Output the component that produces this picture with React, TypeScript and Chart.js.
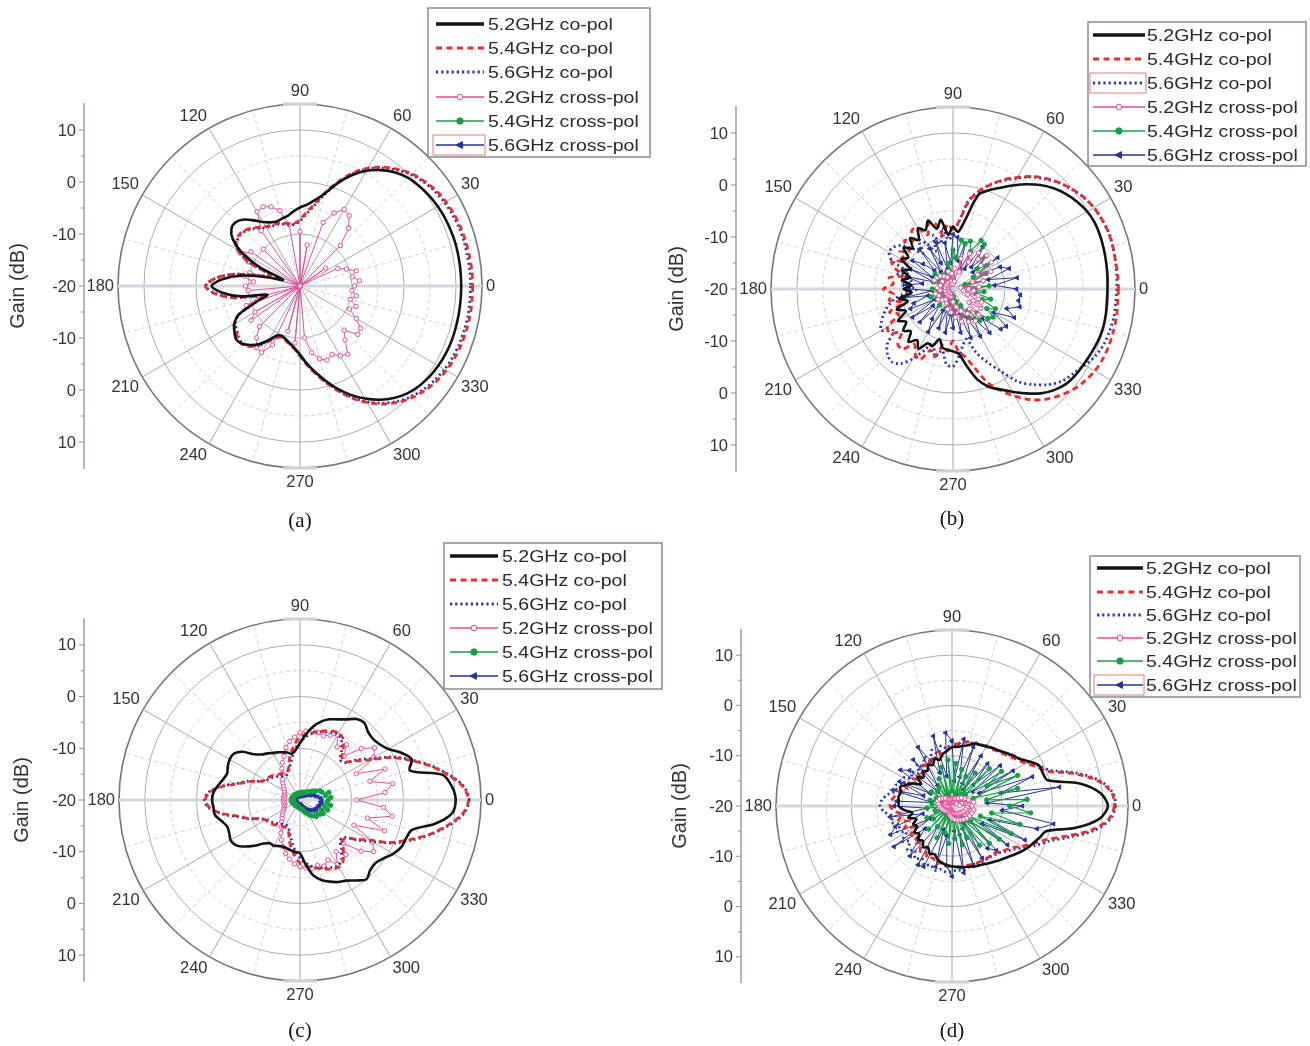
import React, { useEffect, useRef } from 'react';
import { Chart, registerables } from 'chart.js';

Chart.register(...registerables);

// ---------- categories & ticks ----------
const ANGLES = [
  0, 5, 10, 15, 20, 25, 30, 35, 40, 45, 50, 55,
  60, 65, 70, 75, 80, 85, 90, 95, 100, 105, 110, 115,
  120, 125, 130, 135, 140, 145, 150, 155, 160, 165, 170, 175,
  180, 185, 190, 195, 200, 205, 210, 215, 220, 225, 230, 235,
  240, 245, 250, 255, 260, 265, 270, 275, 280, 285, 290, 295,
  300, 305, 310, 315, 320, 325, 330, 335, 340, 345, 350, 355,
];
const ANGLE_LABELS = [0, 30, 60, 90, 120, 150, 180, 210, 240, 270, 300, 330];
const GAIN_TICKS = [-20, -10, 0, 10];
const GAIN_MINOR = [-15, -5, 5];
const R_MIN = -20;
const R_MAX = 15;
const SERIES_NAMES = [
  '5.2GHz co-pol', '5.4GHz co-pol', '5.6GHz co-pol',
  '5.2GHz cross-pol', '5.4GHz cross-pol', '5.6GHz cross-pol',
];
const CAPTIONS = ['(a)', '(b)', '(c)', '(d)'];

// ---------- panel (a) ----------
const A_CO52 = [
  11, 11, 11, 11, 10.9, 10.8, 10.6, 10.3, 9.9, 9.4, 8.5, 7.2,
  5.6, 3.5, 1.0, -1.6, -3.2, -4.3, -4.9, -5.6, -6.3, -6.6, -6.8, -6.5,
  -5.8, -4.6, -3.3, -2.6, -2.8, -4.2, -7.0, -11.5, -16.5, -13.5, -8.5, -5.0,
  -3.0, -5.0, -8.5, -13.5, -11.0, -7.0, -5.4, -4.6, -4.0, -4.3, -5.2, -6.4,
  -8.0, -9.5, -9.8, -9.4, -8.8, -8.0, -6.8, -5.0, -3.2, -1.2, 1.0, 3.1,
  5.0, 6.7, 8.1, 9.2, 9.9, 10.4, 10.7, 10.9, 11, 11, 11, 11,
];
const A_CO54 = [
  13.2, 13.2, 13.1, 13.0, 12.9, 12.7, 12.4, 12.0, 11.3, 10.5, 9.3, 7.9,
  6.2, 4.0, 1.3, -1.5, -4.0, -5.8, -7.2, -7.9, -7.8, -7.5, -7.2, -7.1,
  -6.8, -6.2, -5.5, -4.9, -4.7, -5.0, -6.0, -9.0, -14.0, -12.5, -7.0, -3.5,
  -1.8, -3.5, -7.0, -12.5, -11.0, -7.0, -5.4, -5.0, -4.4, -4.2, -4.8, -6.0,
  -7.6, -9.0, -9.5, -9.2, -8.6, -7.8, -6.5, -4.8, -2.9, -0.8, 1.5, 3.8,
  5.9, 7.7, 9.2, 10.4, 11.3, 12.0, 12.5, 12.8, 13.0, 13.1, 13.2, 13.2,
];
const A_CO56 = [
  12.8, 12.8, 12.7, 12.7, 12.6, 12.4, 12.1, 11.7, 11.1, 10.3, 9.1, 7.7,
  6.0, 3.8, 1.0, -1.8, -4.3, -6.1, -7.5, -8.1, -8.0, -7.7, -7.4, -7.3,
  -7.0, -6.4, -5.7, -5.1, -4.9, -5.2, -6.2, -9.2, -14.0, -12.5, -7.0, -3.6,
  -1.9, -3.6, -7.0, -12.5, -11.0, -7.2, -5.6, -5.2, -4.6, -4.4, -5.0, -6.2,
  -7.8, -9.2, -9.6, -9.3, -8.7, -7.9, -6.6, -4.9, -3.0, -0.9, 1.3, 3.6,
  5.7, 7.5, 9.0, 10.1, 11.0, 11.6, 12.1, 12.4, 12.6, 12.7, 12.8, 12.8,
];
const A_X52 = [
  -9.5, -8.5, -9.8, -8.8, -10.5, -12, -20, -14, -20, -9, -5.5, -3.5,
  -3.0, -4.5, -7, -20, -12, -20, -9.5, -20, -8, -5, -3.8, -3.2,
  -3.5, -7, -20, -10, -20, -8.5, -7.5, -9, -20, -10, -9, -11,
  -9.5, -10, -20, -12, -9, -20, -10, -8.5, -20, -9, -7, -5.5,
  -5.2, -7.5, -20, -11, -20, -9, -20, -10, -7, -5.5, -4.8, -5.5,
  -4.5, -4, -6.5, -8, -5.5, -5.8, -7.5, -9.5, -8.5, -10, -9, -10,
];
const A_X54 = [
  -20, -20, -20, -20, -20, -20, -20, -20, -20, -20, -20, -20,
  -20, -20, -20, -20, -20, -20, -20, -20, -20, -20, -20, -20,
  -20, -20, -20, -20, -20, -20, -20, -20, -20, -20, -20, -20,
  -20, -20, -20, -20, -20, -20, -20, -20, -20, -20, -20, -20,
  -20, -20, -20, -20, -20, -20, -20, -20, -20, -20, -20, -20,
  -20, -20, -20, -20, -20, -20, -20, -20, -20, -20, -20, -20,
];
const A_X56 = [
  -20, -20, -20, -20, -20, -20, -20, -20, -20, -20, -20, -20,
  -20, -20, -20, -20, -20, -20, -20, -20, -20, -20, -20, -20,
  -20, -20, -20, -20, -20, -20, -20, -20, -20, -20, -20, -20,
  -20, -20, -20, -20, -20, -20, -20, -20, -20, -20, -20, -20,
  -20, -20, -20, -20, -20, -20, -20, -20, -20, -20, -20, -20,
  -20, -20, -20, -20, -20, -20, -20, -20, -20, -20, -20, -20,
];

// ---------- panel (b) ----------
const B_CO52 = [
  9.7, 9.8, 9.9, 10.0, 10.1, 10.1, 9.8, 9.2, 8.4, 7.4, 6.1, 4.6,
  3.0, 1.5, 0.2, -1.3, -6.5, -9, -8, -9.5, -6.5, -8, -6, -7.5,
  -6.5, -8.5, -7.2, -9, -7.6, -9.5, -8.5, -11, -9.5, -11.5, -10, -12,
  -10.5, -12, -9.5, -11, -8.5, -10, -7.8, -9, -7.5, -8.5, -6.7, -8,
  -6.7, -8.5, -8.3, -10, -8.5, -8.3, -8.0, -7.5, -5.0, -2.0, 0.0, 1.3,
  2.8, 4.5, 6.2, 7.5, 8.4, 8.8, 9.0, 9.3, 9.6, 9.8, 9.8, 9.7,
];
const B_CO54 = [
  11.8, 11.8, 11.7, 11.8, 11.8, 11.6, 11.3, 10.7, 9.9, 8.9, 7.8, 6.4,
  4.8, 3.2, 1.4, -0.5, -3, -7, -8.5, -7.5, -9.5, -7, -6.4, -8.5,
  -6.5, -6.2, -8, -6.8, -9, -7.5, -9.5, -7, -8, -10, -7.5, -8.5,
  -6.6, -8.5, -7.5, -10, -7, -8.5, -5.5, -5.2, -7, -5, -4.9, -7,
  -5.5, -5.0, -7.5, -6.5, -9, -8, -10, -8, -6.8, -4.5, -1, 1.5,
  3.8, 6.0, 7.7, 9.0, 10.1, 10.9, 11.5, 11.8, 11.9, 11.9, 11.9, 11.8,
];
const B_CO56 = [
  11.5, 11.6, 11.7, 11.8, 11.9, 11.6, 11.3, 10.7, 9.8, 8.9, 7.6, 6.3,
  4.6, 3.0, 1.5, -0.5, -2.7, -7, -9.3, -10.5, -8, -11, -9, -12,
  -10, -8.5, -11, -9, -7, -6, -5.8, -7, -11, -9, -12, -10,
  -13, -11, -8.5, -7, -5.8, -4.8, -4.1, -6, -3.5, -2.2, -1.7, -2.5,
  -4.5, -7, -9, -6.5, -8, -5.5, -5.1, -7, -9, -10, -7, -4.5,
  -1.8, 1.7, 4.0, 6.0, 7.5, 8.3, 9.3, 10.3, 10.9, 11.2, 11.4, 11.4,
];
const B_X52 = [
  -17, -15, -18.5, -14, -16, -12, -14.5, -11, -13, -10.8, -12.5, -11.5,
  -14, -12.5, -16.5, -14, -18.5, -16, -19, -17, -18.5, -16.5, -19, -17.5,
  -19, -17, -18.5, -16.5, -19, -17.5, -18.5, -16, -19, -17.5, -18.5, -17,
  -19, -17.5, -18.5, -16.5, -19, -17, -18.5, -16.5, -19, -17, -18.5, -17.5,
  -19, -17, -18.5, -16, -18.5, -15.5, -17.5, -14.5, -16.5, -13.5, -15.5, -13,
  -14.5, -12.5, -15, -13, -16, -13.5, -15.5, -14, -17, -15, -18, -16,
];
const B_X54 = [
  -16, -13, -18, -14, -17.5, -13, -15.5, -12, -14, -11, -12.5, -9.5,
  -9.2, -12, -10.2, -11, -10.5, -14, -12.5, -17, -15, -18.5, -16.5, -19,
  -17, -19, -16.5, -18.5, -15.5, -19, -17, -18.5, -16, -19, -17.5, -18.5,
  -16, -19, -17, -18.5, -15.5, -18.8, -16.5, -19, -17, -18.5, -16, -19,
  -17.5, -18.5, -16, -19, -17, -18, -15, -18.5, -16.5, -17.5, -14.5, -16.5,
  -13.5, -15, -12, -13.5, -11.2, -10.6, -12.5, -11, -14, -12.5, -15.5, -14,
];
const B_X56 = [
  -7.8, -12, -7.5, -13, -8.5, -10.0, -14.5, -9.5, -15, -11, -14.5, -10,
  -15.5, -12, -16, -11, -14.5, -10, -9.5, -15, -11, -16, -10.5, -14.5,
  -11, -16, -10, -15, -12.5, -10.5, -15.5, -11, -16, -10.8, -14, -11,
  -11.5, -16, -10.5, -15, -12, -11, -16, -10.5, -15, -11, -16, -13,
  -10.5, -15.5, -12, -16, -11.5, -15, -12.5, -16, -11.5, -15, -10, -14,
  -9.5, -13, -9.0, -12, -8.0, -7.5, -11, -7.0, -9, -6.7, -7.2, -7.0,
];

// ---------- panel (c) ----------
const C_CO52 = [
  10.1, 9.5, 8.0, 2.0, 3.0, 1.6, -0.3, -1.2, -1.6, -1.4, -0.6, -0.9,
  -2.0, -2.8, -3.4, -4.3, -5.6, -7.3, -9.0, -10.3, -10.9, -10.5, -10.2, -9.8,
  -9.5, -9.0, -8.5, -7.5, -5.5, -4.4, -4.3, -4.6, -5.0, -4.6, -3.9, -3.2,
  -3.0, -3.2, -3.3, -4.3, -5.0, -4.9, -4.5, -4.8, -6.0, -7.5, -9.0, -9.8,
  -9.8, -10.2, -10.4, -10.3, -10.1, -9.9, -9.7, -7.5, -5.2, -4.0, -3.2, -2.5,
  -2.0, -1.0, 0, -0.8, -1.0, -0.3, 0.8, 1.6, 1.8, 2.4, 6.5, 9.5,
];
const C_CO54 = [
  12.6, 11.5, 8.8, 5.8, 2.5, -0.6, -4.5, -6.8, -8.5, -8.5, -7.0, -5.5,
  -5.0, -5.3, -5.8, -6.3, -6.8, -7.2, -7.8, -9, -10.5, -12, -13.5, -14,
  -14, -13.8, -13.5, -13.2, -12.8, -12.5, -12.3, -11.5, -9.5, -7.8, -4.8, -2.5,
  -1.7, -2.5, -4.8, -7.8, -9.5, -11.5, -12.3, -12.5, -12.8, -13.2, -13.5, -13.8,
  -14, -14, -13.5, -12, -10.5, -9, -7.8, -7.2, -6.8, -6.3, -5.8, -5.3,
  -5.0, -5.5, -7.0, -8.5, -8.5, -6.8, -4.5, -0.6, 2.5, 5.8, 8.8, 11.5,
];
const C_CO56 = [
  12.7, 11.7, 9.0, 6.0, 2.8, -0.3, -4.0, -6.5, -8.8, -9.0, -7.5, -6.0,
  -5.3, -5.6, -6.0, -6.4, -7.0, -7.8, -8.8, -10, -11.5, -12.8, -13.8, -14.4,
  -14.5, -14.3, -14, -13.6, -13.2, -12.8, -12.4, -11.4, -9.4, -7.5, -4.6, -2.3,
  -1.5, -2.3, -4.6, -7.5, -9.4, -11.4, -12.4, -12.8, -13.2, -13.6, -14, -14.3,
  -14.5, -14.4, -13.8, -12.8, -11.5, -10, -8.8, -7.8, -7.0, -6.4, -6.0, -5.6,
  -5.3, -6.0, -7.5, -9.0, -8.8, -6.5, -4.0, -0.3, 2.8, 6.0, 9.0, 11.7,
];
const C_X52 = [
  -9, -3.5, -1.8, -6, -2.5, -8, -3.5, -2.4, -4.5, -8, -6, -7.5,
  -5.5, -6.2, -6.8, -6.5, -6.3, -6.6, -7, -7.8, -8.5, -9.5, -11, -12,
  -13, -14, -14.8, -15.3, -15.8, -16.2, -16.5, -16.7, -16.8, -17, -16.8, -17,
  -16.8, -17, -16.8, -17, -16.8, -16.6, -16.4, -16, -15.6, -15.1, -14.5, -13.6,
  -12.6, -11.5, -10.4, -9.3, -8.4, -7.6, -7.1, -6.8, -6.5, -6.9, -6.4, -7.2,
  -5.6, -7.8, -6.2, -8.2, -4.6, -2.6, -3.8, -8.5, -2.6, -6.5, -1.9, -3.8,
];
const C_X54 = [
  -14.5, -14, -15, -14.2, -15.5, -15.8, -16.5, -17, -17.5, -17.8, -18, -18.2,
  -18.3, -18.5, -18.4, -18.6, -18.5, -18.7, -18.6, -18.8, -18.7, -18.8, -18.6, -18.8,
  -18.7, -18.8, -18.6, -18.8, -18.5, -18.7, -18.6, -18.5, -18.7, -18.4, -18.6, -18.3,
  -18.5, -18.3, -18.6, -18.4, -18.7, -18.5, -18.8, -18.6, -18.7, -18.8, -18.6, -18.8,
  -18.7, -18.8, -18.6, -18.7, -18.5, -18.6, -18.4, -18.3, -18.2, -18, -17.6, -17.2,
  -16.8, -16.3, -16, -15.5, -15.8, -15.2, -14.8, -15.4, -14.3, -15, -14, -14.8,
];
const C_X56 = [
  -15.8, -16, -16.5, -17, -17.3, -17.8, -18, -18.3, -18.5, -18.7, -18.8, -18.9,
  -19, -19, -19.1, -19, -19.1, -19.2, -19.1, -19.2, -19.1, -19.2, -19.1, -19.2,
  -19.1, -19.2, -19.1, -19.0, -19.1, -19.0, -19.1, -19.0, -19.1, -19.0, -19.1, -19.0,
  -19.1, -19.0, -19.1, -19.0, -19.1, -19.2, -19.1, -19.2, -19.1, -19.0, -19.1, -19.0,
  -19.1, -19.0, -19.1, -19.0, -19.1, -19.0, -19.1, -19.0, -18.9, -18.8, -18.6, -18.4,
  -18.1, -17.8, -17.5, -17.2, -16.9, -16.6, -16.3, -16.5, -16.0, -16.2, -15.7, -16.0,
];

// ---------- panel (d) ----------
const D_CO52 = [
  11.0, 9.6, 5.8, -0.3, -0.8, -0.9, -2.3, -3.6, -4.3, -5.0, -5.6, -5.9,
  -6.3, -6.6, -6.8, -7.5, -7.9, -8.2, -8.3, -9.0, -9.5, -10.5, -10, -11,
  -10.5, -11.5, -11, -12, -11, -12.5, -11, -10, -9, -9.5, -9.2, -9.4,
  -9.4, -10.5, -12, -11, -12.5, -11.5, -12, -10.8, -11.5, -10.5, -11, -10,
  -10.5, -9.5, -9.8, -9.0, -8.5, -8.2, -8.0, -7.8, -7.6, -7.5, -7.2, -7.0,
  -6.7, -6.3, -5.8, -5.3, -4.6, -3.8, -3.0, -2.3, -1.5, -0.6, 5.0, 9.4,
];
const D_CO54 = [
  12.3, 11.8, 9.3, 5.0, 0.2, -1.5, -3.0, -4.0, -4.8, -5.4, -5.8, -6.2,
  -6.4, -6.6, -6.7, -6.8, -7.2, -7.6, -8, -8.8, -9.5, -9, -10, -9.5,
  -11, -10, -11.5, -10.5, -12, -10.5, -11, -9.5, -10.5, -9, -8.5, -7.9,
  -7.7, -8.5, -10, -9, -11, -9.5, -11.5, -10, -11, -9.5, -10.5, -9,
  -9.5, -8.5, -9, -8.2, -8.5, -8.0, -8.0, -7.9, -7.8, -7.8, -7.7, -7.6,
  -7.6, -7.5, -7.5, -7.0, -6.3, -5.5, -4.0, -2.2, -0.3, 3.3, 8.0, 11.2,
];
const D_CO56 = [
  12.5, 12.0, 9.6, 5.5, 0.8, -1.0, -2.6, -3.6, -4.5, -5.2, -5.6, -6.0,
  -6.2, -6.5, -6.6, -7.0, -6.5, -7.8, -7.2, -8.5, -7.8, -9.2, -8.2, -9.8,
  -8.8, -10.5, -9.2, -10.8, -9.5, -10.2, -8.8, -9.5, -8, -8.5, -7, -6,
  -5.7, -6.5, -8, -7.5, -9, -8, -9.5, -7.8, -9, -7.5, -8.5, -7.2,
  -8, -7, -7.5, -6.8, -7.2, -6.8, -7.0, -7.2, -7.0, -7.4, -7.2, -7.5,
  -7.3, -7.4, -7.2, -6.8, -6.0, -5.0, -3.5, -1.5, 0.5, 4.0, 8.5, 11.5,
];
const D_X52 = [
  -16, -18.5, -15.6, -18, -16.5, -19, -17, -19, -17.5, -19, -18, -19.2,
  -18.3, -19.2, -18.5, -19.3, -18.6, -19.2, -18.5, -19.3, -18.8, -19.2, -18.6, -19.3,
  -18.5, -19.2, -18, -19, -17.6, -18.8, -17.2, -18.6, -17, -18.5, -17.2, -18.8,
  -17.5, -19, -17.8, -19.2, -18, -19.3, -18.3, -19.2, -18.5, -19.3, -18.6, -19.2,
  -18.6, -19.3, -18.3, -19.2, -18, -19, -17.6, -18.8, -17.3, -18.6, -17, -18.4,
  -16.8, -18.2, -16.5, -18, -16.2, -17.8, -16, -17.5, -15.8, -17.2, -15.6, -17,
];
const D_X54 = [
  -8.5, -5, -13, -6.5, -15.5, -5.6, -12, -8, -16.5, -9.5, -17, -12,
  -18, -13.5, -17.5, -12.5, -18.5, -11.5, -17, -10.8, -18.5, -12, -17.5, -14,
  -18.5, -15.5, -19, -16, -18.5, -15, -19, -16.5, -18, -15.5, -19, -16,
  -18.5, -15, -19, -16.5, -18, -14.5, -19, -15.5, -18.5, -13.5, -19, -15,
  -18, -13, -18.5, -14.5, -17.5, -12.5, -18, -13.5, -17, -12, -18, -13,
  -16.5, -10.5, -17, -9.5, -15.5, -8.5, -16, -7, -14, -6, -12, -4.3,
];
const D_X56 = [
  -6, -13, 1.7, -10, -3, -14, -6, -15, -7.5, -14, -9, -16,
  -8.5, -15, -7.5, -14, -6.5, -15, -7, -5.4, -14, -5.6, -13, -10,
  -6.5, -15, -8, -16, -9, -7.5, -15, -8.5, -14, -7.8, -16, -9,
  -8.5, -15, -7.5, -14, -8, -6.5, -15, -5.9, -13, -10.5, -7, -15,
  -6.5, -6.7, -15, -7.5, -14, -8, -6, -15, -6.5, -14, -7.5, -15,
  -8, -16, -9, -7.5, -15, -6.5, -13, -4, -12, -2.5, 0.5, -10,
];

// ---------- styles (kept apart from the data) ----------
const STYLES: any[] = [
  { borderColor: '#141414', borderWidth: 2.6, borderDash: [], tension: 0.3, pointRadius: 0 },
  { borderColor: '#f22a2a', borderWidth: 2.8, borderDash: [6, 4], tension: 0.3, pointRadius: 0 },
  { borderColor: '#2636b8', borderWidth: 2.8, borderDash: [2, 3], tension: 0.3, pointRadius: 0 },
  { borderColor: '#e64c9c', borderWidth: 1, tension: 0, pointStyle: 'circle', pointRadius: 2.2, pointBackgroundColor: '#ffffff', pointBorderColor: '#e64c9c', pointBorderWidth: 1 },
  { borderColor: '#15a046', borderWidth: 1.2, tension: 0, pointStyle: 'circle', pointRadius: 2.2, pointBackgroundColor: '#15a046', pointBorderColor: '#15a046', pointBorderWidth: 1 },
  { borderColor: '#26339c', borderWidth: 1, tension: 0, pointStyle: 'triangle', pointRotation: -90, pointRadius: 2.5, pointBackgroundColor: '#26339c', pointBorderColor: '#26339c', pointBorderWidth: 1 },
];

const PANELS: any[] = [
  {
    key: 'a', left: 0, top: 0, w: 680, h: 530,
    pad: { left: 118, top: 104, right: 198, bottom: 62 },
    axisX: 84, titleX: 18,
    legend: { x: 428, y: 8, w: 222, h: 149, rows: [24, 48, 72, 97, 121, 145], lx0: 436, lx1: 484, tx: 488, hl: 5 },
    series: [A_CO52, A_CO54, A_CO56, A_X52, A_X54, A_X56],
    hide: [4, 5],
    cap: { x: 300, y: 520 },
  },
  {
    key: 'b', left: 655, top: 0, w: 655, h: 530,
    pad: { left: 116, top: 107, right: 175, bottom: 59 },
    axisX: 81, titleX: 22,
    legend: { x: 433, y: 22, w: 218, h: 144, rows: [35, 59, 83, 107, 131, 155], lx0: 438, lx1: 490, tx: 492, hl: 2 },
    series: [B_CO52, B_CO54, B_CO56, B_X52, B_X54, B_X56],
    hide: [],
    cap: { x: 952, y: 518 },
  },
  {
    key: 'c', left: 0, top: 530, w: 680, h: 516,
    pad: { left: 119, top: 89, right: 199, bottom: 65 },
    axisX: 84, titleX: 22,
    legend: { x: 444, y: 13, w: 218, h: 146, rows: [26, 50, 74, 98, 122, 146], lx0: 450, lx1: 498, tx: 502, hl: -1 },
    series: [C_CO52, C_CO54, C_CO56, C_X52, C_X54, C_X56],
    hide: [],
    cap: { x: 300, y: 1030 },
  },
  {
    key: 'd', left: 655, top: 530, w: 655, h: 516,
    pad: { left: 121, top: 100, right: 182, bottom: 64 },
    axisX: 86, titleX: 25,
    legend: { x: 435, y: 26, w: 210, h: 141, rows: [38, 62, 85, 108, 131, 155], lx0: 442, lx1: 488, tx: 491, hl: 5 },
    series: [D_CO52, D_CO54, D_CO56, D_X52, D_X54, D_X56],
    hide: [],
    cap: { x: 952, y: 1030 },
  },
];

// radar goes clockwise from the start angle; polar angles go counter-clockwise
const toRadar = (arr: any[]) => arr.map((_, i) => arr[(arr.length - i) % arr.length]);
const angleOfIndex = (i: number) => (360 - 5 * i) % 360;
const indexOfAngle = (a: number) => ((360 - a) % 360) / 5;

const SANS = '"Liberation Sans", Arial, Helvetica, sans-serif';

function drawMarker(ctx: CanvasRenderingContext2D, i: number, x: number, y: number) {
  const st = STYLES[i];
  if (!st.pointRadius) return;
  ctx.save();
  ctx.setLineDash([]);
  ctx.lineWidth = 1;
  ctx.fillStyle = st.pointBackgroundColor;
  ctx.strokeStyle = st.pointBorderColor;
  if (st.pointStyle === 'triangle') {
    const r = 4.2;
    ctx.beginPath();
    ctx.moveTo(x - r, y);
    ctx.lineTo(x + r * 0.6, y - r * 0.8);
    ctx.lineTo(x + r * 0.6, y + r * 0.8);
    ctx.closePath();
    ctx.fill();
    ctx.stroke();
  } else {
    ctx.beginPath();
    ctx.arc(x, y, i === 3 ? 2.8 : 3.2, 0, Math.PI * 2);
    ctx.fill();
    ctx.stroke();
  }
  ctx.restore();
}

function makeDecor(p: any) {
  return {
    id: 'decor_' + p.key,
    afterDraw(chart: any) {
      const s = chart.scales.r;
      const ctx: CanvasRenderingContext2D = chart.ctx;
      const cx = s.xCenter;
      const cy = s.yCenter;
      const R = s.drawingArea;
      ctx.save();

      // short grey caps at the top and bottom of the outer circle
      ctx.strokeStyle = '#cdd2d8';
      ctx.lineWidth = 3;
      [cy - R, cy + R].forEach((y) => {
        ctx.beginPath();
        ctx.moveTo(cx - 17, y);
        ctx.lineTo(cx + 17, y);
        ctx.stroke();
      });

      // angular labels
      ctx.fillStyle = '#333';
      ctx.font = `16.5px ${SANS}`;
      ANGLE_LABELS.forEach((a) => {
        const pos = s.getPointPosition(indexOfAngle(a), R + 4);
        const c = Math.cos((a * Math.PI) / 180);
        const sn = Math.sin((a * Math.PI) / 180);
        ctx.textAlign = c > 0.05 ? 'left' : c < -0.05 ? 'right' : 'center';
        ctx.textBaseline = sn > 0.05 ? 'bottom' : sn < -0.05 ? 'top' : 'middle';
        ctx.fillText(String(a), pos.x, pos.y + (a === 270 ? 2 : 0));
      });

      // gain axis on the left
      const ax = p.axisX;
      const dTop = s.getDistanceFromCenterForValue(R_MAX);
      ctx.strokeStyle = '#95a0ad';
      ctx.lineWidth = 1.5;
      ctx.beginPath();
      ctx.moveTo(ax, cy - dTop - 1);
      ctx.lineTo(ax, cy + dTop + 1);
      ctx.stroke();
      ctx.lineWidth = 1.2;
      ctx.font = `16.5px ${SANS}`;
      ctx.textAlign = 'right';
      ctx.textBaseline = 'middle';
      GAIN_TICKS.forEach((v) => {
        const d = s.getDistanceFromCenterForValue(v);
        const ys = d === 0 ? [cy] : [cy - d, cy + d];
        ys.forEach((y) => {
          ctx.beginPath();
          ctx.moveTo(ax - 5, y);
          ctx.lineTo(ax, y);
          ctx.stroke();
          ctx.fillText(String(v), ax - 8, y + 1);
        });
      });
      GAIN_MINOR.forEach((v) => {
        const d = s.getDistanceFromCenterForValue(v);
        [cy - d, cy + d].forEach((y) => {
          ctx.beginPath();
          ctx.moveTo(ax - 3, y);
          ctx.lineTo(ax, y);
          ctx.stroke();
        });
      });
      ctx.save();
      ctx.translate(p.titleX, cy);
      ctx.rotate(-Math.PI / 2);
      ctx.textAlign = 'center';
      ctx.textBaseline = 'middle';
      ctx.font = `20px ${SANS}`;
      ctx.fillText('Gain (dB)', 0, 0);
      ctx.restore();

      // legend box
      const L = p.legend;
      ctx.fillStyle = '#ffffff';
      ctx.fillRect(L.x, L.y, L.w, L.h);
      ctx.strokeStyle = '#858d99';
      ctx.lineWidth = 1.5;
      ctx.strokeRect(L.x, L.y, L.w, L.h);
      chart.data.datasets.forEach((ds: any, i: number) => {
        const y = L.rows[i];
        const st = STYLES[i];
        if (i === L.hl) {
          ctx.save();
          ctx.strokeStyle = '#e77a7a';
          ctx.lineWidth = 1;
          ctx.strokeRect(L.lx0 - 3, y - 10, L.lx1 - L.lx0 + 4, 20);
          ctx.restore();
        }
        ctx.save();
        ctx.strokeStyle = st.borderColor;
        ctx.lineWidth = i === 0 ? 3.6 : i < 3 ? 3 : 1.6;
        ctx.setLineDash(i === 1 ? [6, 4.5] : i === 2 ? [2.2, 3] : []);
        ctx.beginPath();
        ctx.moveTo(L.lx0, y);
        ctx.lineTo(L.lx1, y);
        ctx.stroke();
        ctx.restore();
        if (i >= 3) drawMarker(ctx, i, (L.lx0 + L.lx1) / 2, y);
        ctx.save();
        ctx.fillStyle = '#2a2a2a';
        ctx.font = `16.7px ${SANS}`;
        ctx.textAlign = 'left';
        ctx.textBaseline = 'middle';
        ctx.translate(L.tx, y + 1);
        ctx.scale(1.17, 1);
        ctx.fillText(ds.label, 0, 0);
        ctx.restore();
      });

      ctx.restore();
    },
  };
}

function PolarPanel({ p }: { p: any }) {
  const ref = useRef<HTMLCanvasElement | null>(null);
  useEffect(() => {
    if (!ref.current) return;
    const chart = new Chart(ref.current, {
      type: 'radar',
      data: {
        labels: toRadar(ANGLES).map(String),
        datasets: p.series.map((arr: number[], i: number) => ({
          label: SERIES_NAMES[i],
          data: toRadar(arr),
          fill: false,
          ...STYLES[i],
          ...(p.hide.includes(i) ? { pointRadius: 0, borderWidth: 0 } : {}),
        })),
      },
      options: {
        responsive: false,
        animation: false,
        layout: { padding: p.pad },
        plugins: { legend: { display: false }, tooltip: { enabled: false }, title: { display: false } },
        elements: { line: { borderJoinStyle: 'round' } },
        scales: {
          r: {
            min: R_MIN,
            max: R_MAX,
            startAngle: 90,
            ticks: { display: false, stepSize: 5 },
            pointLabels: { display: false },
            grid: {
              circular: true,
              color: (c: any) => {
                const v = c.tick ? c.tick.value : 0;
                if (v === R_MAX) return '#6f7782';
                return v % 10 === 0 ? '#a9afb7' : '#cdd1d6';
              },
              lineWidth: (c: any) => (c.tick && c.tick.value === R_MAX ? 1.6 : 1),
            },
            border: {
              dash: (c: any) => {
                const v = c.tick ? c.tick.value : 0;
                return v !== R_MAX && v % 10 !== 0 ? [4, 3] : [];
              },
            },
            angleLines: {
              display: true,
              color: (c: any) => {
                const a = angleOfIndex(c.index);
                if (a % 180 === 0) return '#d3d7dc';
                if (a % 30 === 0) return '#a3a9b1';
                if (a % 15 === 0) return '#cdd1d6';
                return 'rgba(0,0,0,0)';
              },
              lineWidth: (c: any) => {
                const a = angleOfIndex(c.index);
                if (a % 180 === 0) return 3;
                if (a % 15 === 0) return 1;
                return 0;
              },
              borderDash: (c: any) => {
                const a = angleOfIndex(c.index);
                return a % 30 !== 0 && a % 15 === 0 ? [4, 3] : [];
              },
            },
          },
        },
      } as any,
      plugins: [makeDecor(p)],
    });
    return () => chart.destroy();
  }, [p]);
  return (
    <canvas
      ref={ref}
      width={p.w}
      height={p.h}
      style={{ position: 'absolute', left: p.left, top: p.top, width: p.w, height: p.h }}
    />
  );
}

export default function App() {
  return (
    <div style={{ position: 'absolute', left: 0, top: 0, width: 1310, height: 1046, background: '#ffffff', overflow: 'hidden' }}>
      {PANELS.map((p) => (
        <PolarPanel key={p.key} p={p} />
      ))}
      {PANELS.map((p, i) => (
        <div
          key={'cap' + p.key}
          style={{
            position: 'absolute',
            left: p.cap.x,
            top: p.cap.y,
            transform: 'translate(-50%, -50%)',
            fontFamily: '"Liberation Serif", "Times New Roman", serif',
            fontSize: 21,
            color: '#111',
            whiteSpace: 'nowrap',
          }}
        >
          {CAPTIONS[i]}
        </div>
      ))}
    </div>
  );
}
